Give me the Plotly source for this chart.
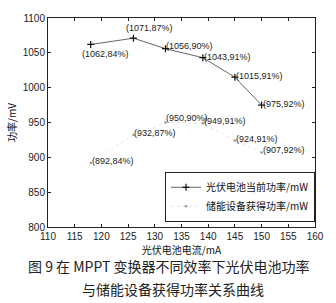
import plotly.graph_objects as go

current_ma = [118, 126, 132, 139, 145, 150]
pv_power = [1062, 1071, 1056, 1043, 1015, 975]
pv_eff = ["84%", "87%", "90%", "91%", "91%", "92%"]
store_power = [892, 932, 950, 949, 924, 907]
store_eff = ["84%", "87%", "90%", "91%", "91%", "92%"]

FONT = "Liberation Sans, Arial, Noto Sans CJK SC"
CJK = "Noto Sans CJK SC"

fig = go.Figure()
fig.add_trace(go.Scatter(
    x=current_ma, y=pv_power, mode="lines+markers",
    name="光伏电池当前功率/mW",
    line=dict(color="#666666", width=1),
    marker=dict(symbol="cross-thin", size=5, color="#111111", line=dict(width=1.2, color="#111111")),
))
fig.add_trace(go.Scatter(
    x=current_ma, y=store_power, mode="lines+markers",
    name="储能设备获得功率/mW",
    line=dict(color="#e6e6e6", width=1, dash="dot"),
    marker=dict(symbol="circle", size=2.5, color="#999999"),
))

# labels
for i, (x, y, e) in enumerate(zip(current_ma, pv_power, pv_eff)):
    txt = f"({y},{e})"
    if i == 0:
        fig.add_annotation(x=x, y=y, text=txt, showarrow=False, xanchor="center", yanchor="top",
                           xshift=15, yshift=-3)
    elif i == 1:
        fig.add_annotation(x=x, y=y, text=txt, showarrow=False, xanchor="center", yanchor="bottom",
                           xshift=16, yshift=3)
    else:
        fig.add_annotation(x=x, y=y, text=txt, showarrow=False, xanchor="left", yanchor="middle",
                           xshift=-1, yshift=3 if i == 2 else 1)
for i, (x, y, e) in enumerate(zip(current_ma, store_power, store_eff)):
    fig.add_annotation(x=x, y=y, text=f"({y},{e})", showarrow=False, xanchor="left", yanchor="middle",
                       xshift=-1, yshift=5 if i == 2 else 2, font=dict(color="#333333"))

fig.update_annotations(font=dict(family=FONT, size=9, color="#222222"))

fig.add_annotation(xref="paper", yref="paper", x=0.45, y=-0.185, text="图 9 在 MPPT 变换器不同效率下光伏电池功率",
                   showarrow=False, xanchor="center", yanchor="middle",
                   font=dict(family=CJK, size=14, color="#222222"))
fig.add_annotation(xref="paper", yref="paper", x=0.47, y=-0.295, text="与储能设备获得功率关系曲线",
                   showarrow=False, xanchor="center", yanchor="middle",
                   font=dict(family=CJK, size=14, color="#222222"))

axis_common = dict(showline=True, linecolor="#222222", linewidth=1, mirror="ticks",
                   ticks="inside", ticklen=3, tickcolor="#222222", showgrid=False, zeroline=False,
                   tickfont=dict(family=FONT, size=10, color="#222222"))
fig.update_xaxes(range=[110, 160], dtick=5, tick0=110,
                 title=dict(text="光伏电池电流/mA", font=dict(family=CJK, size=10, color="#111111"), standoff=1),
                 **axis_common)
fig.update_yaxes(range=[800, 1100], dtick=50, tick0=800,
                 title=dict(text="功率/mV", font=dict(family=CJK, size=10, color="#111111"), standoff=4),
                 **axis_common)

fig.update_layout(
    width=336, height=303,
    margin=dict(l=43, r=13, t=12, b=76),
    paper_bgcolor="white", plot_bgcolor="white",
    showlegend=True,
    legend=dict(x=1.0, y=0.025, xanchor="right", yanchor="bottom",
                bgcolor="white", bordercolor="#222222", borderwidth=1,
                font=dict(family=CJK, size=10, color="#111111"),
                tracegroupgap=0, itemwidth=30),
)

fig.write_html("out.html")
